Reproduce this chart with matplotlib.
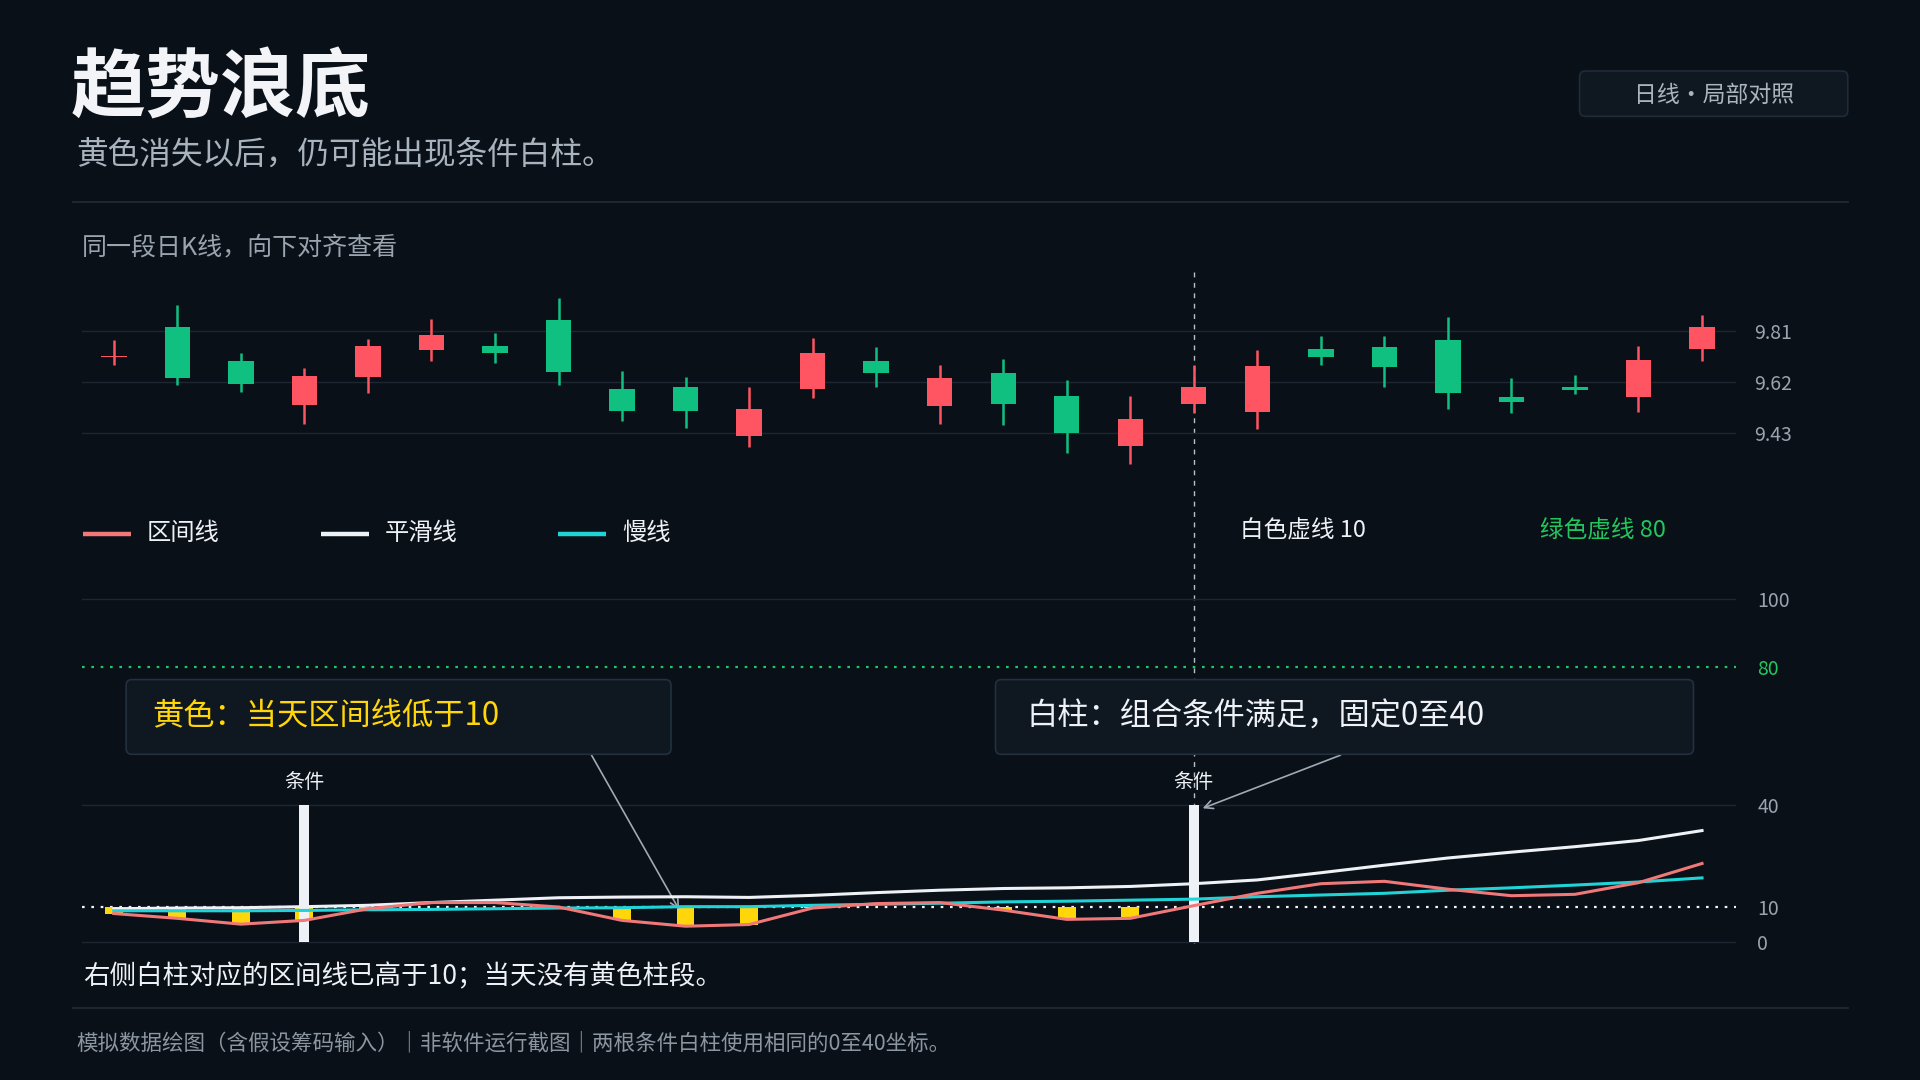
import numpy as np
import matplotlib
matplotlib.use("Agg")
import matplotlib.pyplot as plt
from matplotlib.lines import Line2D
from matplotlib.patches import FancyBboxPatch
from matplotlib.transforms import blended_transform_factory

plt.rcParams['font.family'] = ['Noto Sans CJK SC', 'DejaVu Sans']

# ---- data ----
days = np.arange(26)

opens = [9.712, 9.822, 9.698, 9.534, 9.638, 9.737, 9.752, 9.848, 9.595, 9.601, 9.421, 9.594, 9.698,
         9.531, 9.653, 9.569, 9.383, 9.538, 9.510, 9.742, 9.749, 9.776, 9.564, 9.602, 9.564, 9.741]
closes = [9.718, 9.634, 9.612, 9.643, 9.753, 9.794, 9.726, 9.656, 9.512, 9.512, 9.521, 9.728, 9.653,
          9.635, 9.538, 9.431, 9.484, 9.602, 9.678, 9.713, 9.675, 9.579, 9.546, 9.591, 9.702, 9.822]
highs = [9.776, 9.905, 9.726, 9.671, 9.779, 9.853, 9.800, 9.929, 9.660, 9.638, 9.601, 9.782, 9.749,
         9.682, 9.704, 9.627, 9.569, 9.682, 9.737, 9.789, 9.789, 9.859, 9.634, 9.645, 9.752, 9.867]
lows = [9.683, 9.610, 9.582, 9.464, 9.578, 9.698, 9.689, 9.610, 9.477, 9.451, 9.380, 9.560, 9.601,
        9.464, 9.461, 9.359, 9.317, 9.505, 9.446, 9.682, 9.601, 9.520, 9.505, 9.575, 9.509, 9.697]
price_ticks = [9.43, 9.62, 9.81]

range_line = [8.2, 6.8, 5.1, 6.2, 9.6, 11.4, 11.4, 10.1, 6.2, 4.5, 5.0, 9.8, 11.1,
              11.4, 9.2, 6.5, 6.8, 10.5, 14.1, 16.9, 17.6, 15.3, 13.4, 13.8, 17.2, 22.8]
smooth_line = [9.6, 9.8, 9.9, 10.2, 10.6, 11.4, 12.1, 12.8, 13.0, 13.1, 12.9, 13.5, 14.3,
               15.0, 15.5, 15.7, 16.1, 16.9, 18.0, 20.1, 22.3, 24.4, 26.1, 27.7, 29.5, 32.4]
slow_line = [9.0, 9.0, 9.0, 9.1, 9.3, 9.4, 9.6, 9.8, 9.9, 10.2, 10.2, 10.6, 10.9,
             11.2, 11.6, 11.8, 12.1, 12.4, 13.1, 13.6, 14.1, 15.0, 15.7, 16.5, 17.4, 18.6]
signal_days = [3, 17]
signal_top = 40
yellow_level = 10
green_level = 80
ind_ticks = [0, 10, 40, 80, 100]

# ---- colours ----
BG = '#0a1018'
RED = '#ff5461'
GREEN = '#10c080'
GRID = '#1e2731'
GRAY = '#9aa4ae'
WHITE = '#eef1f5'
SALMON = '#f07878'
CYAN = '#1fd3d6'
YELLOW = '#ffd60a'
LGREEN = '#22c55e'

W, H = 1568, 882  # reference layout units


def fx(x):
    return x / W


def fy(y):
    return 1 - y / H


def ty(y):
    # text centres sit a touch low in the reference
    return fy(y + 2)


fig = plt.figure(figsize=(19.2, 10.8), dpi=100, facecolor=BG)

# ---- price panel ----
ax_k = fig.add_axes([fx(67), fy(400), fx(1418) - fx(67), fy(222) - fy(400)])
ax_k.set_facecolor('none')
ax_k.set_xlim(-0.5, 25.54)
ax_k.set_ylim(9.222, 10.027)
for p in price_ticks:
    ax_k.axhline(p, color=GRID, lw=1, zorder=0)
o = np.array(opens)
c = np.array(closes)
cols = [RED if cc >= oo else GREEN for oo, cc in zip(o, c)]
ax_k.vlines(days, lows, highs, colors=cols, lw=1.8, zorder=2)
ax_k.bar(days, np.abs(c - o), bottom=np.minimum(o, c), width=0.4, color=cols, zorder=3)
ax_k.set_yticks(price_ticks)
ax_k.set_yticklabels([f'{p:.2f}' for p in price_ticks])
ax_k.yaxis.tick_right()
ax_k.tick_params(axis='y', length=0, pad=13, labelsize=14, labelcolor=GRAY)
ax_k.set_xticks([])
for s in ax_k.spines.values():
    s.set_visible(False)

# ---- indicator panel ----
ax = fig.add_axes([fx(67), fy(775), fx(1418) - fx(67), fy(470) - fy(775)])
ax.set_facecolor('none')
ax.set_xlim(-0.5, 25.54)
ax.set_ylim(-2.14, 106.8)
for lv in [0, 40, 100]:
    ax.axhline(lv, color=GRID, lw=1, zorder=0)
ax.axhline(yellow_level, color=WHITE, lw=1.6, ls=(0, (1.2, 3)), zorder=1)
ax.axhline(green_level, color=LGREEN, lw=1.6, ls=(0, (1.2, 3)), zorder=1)

r = np.array(range_line)
low_days = days[r < yellow_level]
ax.bar(low_days, yellow_level - r[r < yellow_level], bottom=r[r < yellow_level],
       width=0.28, color=YELLOW, zorder=2)
ax.bar(signal_days, signal_top, width=0.16, color=WHITE, zorder=3)
ax.plot(days, smooth_line, color=WHITE, lw=2.2, zorder=4)
ax.plot(days, slow_line, color=CYAN, lw=2.2, zorder=4)
ax.plot(days, range_line, color=SALMON, lw=2.2, zorder=5)

for d in signal_days:
    ax.text(d, 46.5, '条件', color=WHITE, fontsize=14.5, ha='center', va='center')

ax.set_yticks(ind_ticks)
ax.set_yticklabels([str(t) for t in ind_ticks])
ax.yaxis.tick_right()
ax.tick_params(axis='y', length=0, pad=15, labelsize=14, labelcolor=GRAY)
for lab, t in zip(ax.get_yticklabels(), ind_ticks):
    if t == green_level:
        lab.set_color(LGREEN)
ax.set_xticks([])
for s in ax.spines.values():
    s.set_visible(False)

# vertical dashed guide at the right signal day, drawn beneath both panels
tr = blended_transform_factory(ax.transData, fig.transFigure)
fig.add_artist(Line2D([signal_days[1]] * 2, [fy(222), fy(770)], transform=tr,
                      color='#b8c0c8', lw=1, ls=(0, (3.5, 4)), zorder=-1))

# annotation boxes
def box(x0, y0, x1, y1, fc='#0f1721', ec='#223040'):
    fig.add_artist(FancyBboxPatch((fx(x0), fy(y1)), fx(x1) - fx(x0), fy(y0) - fy(y1),
                                  boxstyle='round,pad=0,rounding_size=0.003',
                                  mutation_aspect=1920 / 1080, transform=fig.transFigure,
                                  fc=fc, ec=ec, lw=1.2, zorder=6))

box(103, 555, 548, 616)
box(813, 555, 1383, 616)
fig.text(fx(124), ty(583), '黄色：当天区间线低于10', color=YELLOW, fontsize=22.5, va='center', zorder=7)
fig.text(fx(838), ty(583), '白柱：组合条件满足，固定0至40', color=WHITE, fontsize=22.5, va='center', zorder=7)

arrow = dict(arrowstyle='->,head_length=0.6,head_width=0.3', color='#a0aab4', lw=1.2,
             shrinkA=0, shrinkB=0)
ax.annotate('', xy=(8.9, 9.3), xytext=(7.52, 54.4), arrowprops=arrow, annotation_clip=False)
ax.annotate('', xy=(17.14, 38.9), xytext=(19.31, 54.4), arrowprops=arrow, annotation_clip=False)

# ---- legend row ----
legend = [(68, '区间线', SALMON), (262, '平滑线', WHITE), (456, '慢线', CYAN)]
for x0, name, col in legend:
    fig.add_artist(Line2D([fx(x0), fx(x0 + 39)], [fy(436), fy(436)], transform=fig.transFigure,
                          color=col, lw=3.2, solid_capstyle='butt'))
    fig.text(fx(x0 + 52), ty(433), name, color=WHITE, fontsize=17.5, va='center')
fig.text(fx(1013), ty(432), '白色虚线 10', color=WHITE, fontsize=17, va='center')
fig.text(fx(1258), ty(432), '绿色虚线 80', color=LGREEN, fontsize=17, va='center')

# ---- header ----
fig.text(fx(58), ty(71), '趋势浪底', color='#f2f4f7', fontsize=54, fontweight='bold', va='center')
fig.text(fx(62), ty(125), '黄色消失以后，仍可能出现条件白柱。', color='#a9b3bd', fontsize=22.8, va='center')
box(1290, 58, 1509, 95, fc='#0f1721', ec='#1f2b37')
fig.text(fx(1400), ty(76), '日线·局部对照', color='#aab4be', fontsize=16.5, ha='center', va='center', zorder=7)
fig.add_artist(Line2D([fx(60), fx(1509)], [fy(165), fy(165)], transform=fig.transFigure, color='#232c36', lw=1.2))
fig.text(fx(67), ty(200), '同一段日K线，向下对齐查看', color=GRAY, fontsize=18, va='center')

# ---- footer ----
fig.text(fx(68), ty(796), '右侧白柱对应的区间线已高于10；当天没有黄色柱段。', color=WHITE, fontsize=19.1, va='center')
fig.add_artist(Line2D([fx(60), fx(1509)], [fy(823), fy(823)], transform=fig.transFigure, color='#232c36', lw=1.2))
fig.text(fx(62), ty(850), '模拟数据绘图（含假设筹码输入）｜非软件运行截图｜两根条件白柱使用相同的0至40坐标。',
         color='#8c96a0', fontsize=15.5, va='center')

fig.savefig('out.png', dpi=100, facecolor=BG)
